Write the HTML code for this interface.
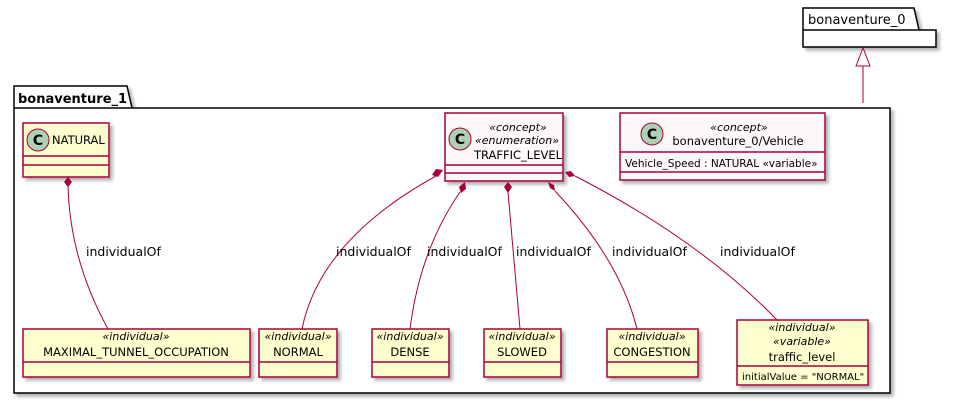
<!DOCTYPE html>
<html><head><meta charset="utf-8"><style>
body{margin:0;background:#fff}
svg text{font-family:"DejaVu Sans","Liberation Sans",sans-serif;font-size:11.5px;fill:#000}
.c{fill:#FEFECE;stroke:#A80036;stroke-width:1.5}
.w{fill:#FCF9F8;stroke:#A80036;stroke-width:1.5}
.e{fill:none;stroke:#A80036;stroke-width:1}
.i{font-style:italic;font-size:11px}
.l{font-size:12.5px}
</style></head><body>
<svg width="957" height="405" viewBox="0 0 957 405" xmlns="http://www.w3.org/2000/svg">
<defs><filter id="s" x="-10%" y="-10%" width="130%" height="130%"><feDropShadow dx="3" dy="3" stdDeviation="1.5" flood-color="#000" flood-opacity="0.3"/></filter></defs>
<g filter="url(#s)">
<path d="M803,8 H914 L919,30 H936 V47 H803 Z" fill="#fff" stroke="#000" stroke-width="1.5"/>
</g>
<line x1="803" y1="30" x2="919" y2="30" stroke="#000" stroke-width="1.5"/>
<text x="808" y="24" style="font-size:13px">bonaventure_0</text>
<polygon points="863,48 856,66 870,66" fill="#fff" stroke="#A80036"/>
<line x1="863" y1="66" x2="863" y2="103" class="e"/>
<g filter="url(#s)">
<path d="M14,86 H127 L132,108 H890 V393 H14 Z" fill="#fff" stroke="#000" stroke-width="1.5"/>
</g>
<line x1="14" y1="108" x2="132" y2="108" stroke="#000" stroke-width="1.5"/>
<text x="18" y="103" style="font-size:13px;font-weight:bold">bonaventure_1</text>
<rect x="23" y="123" width="86" height="54" class="c" filter="url(#s)"/>
<line x1="23" y1="156" x2="109" y2="156" stroke="#A80036" stroke-width="1.5"/>
<line x1="23" y1="165" x2="109" y2="165" stroke="#A80036" stroke-width="1.5"/>
<circle cx="38" cy="140" r="11" fill="#ADD1B2" stroke="#A80036"/>
<text x="38" y="145" text-anchor="middle" style="font-weight:bold;font-size:14px">C</text>
<text x="52" y="144">NATURAL</text>
<rect x="445" y="113" width="118" height="68" class="w" filter="url(#s)"/>
<line x1="445" y1="165" x2="563" y2="165" stroke="#A80036" stroke-width="1.5"/>
<line x1="445" y1="173" x2="563" y2="173" stroke="#A80036" stroke-width="1.5"/>
<circle cx="460" cy="139" r="11" fill="#ADD1B2" stroke="#A80036"/>
<text x="460" y="144" text-anchor="middle" style="font-weight:bold;font-size:14px">C</text>
<text x="518" y="131" text-anchor="middle" class="i">«concept»</text>
<text x="517" y="144" text-anchor="middle" class="i">«enumeration»</text>
<text x="518" y="159" text-anchor="middle">TRAFFIC_LEVEL</text>
<rect x="620" y="113" width="205" height="67" class="w" filter="url(#s)"/>
<line x1="620" y1="152" x2="825" y2="152" stroke="#A80036" stroke-width="1.5"/>
<line x1="620" y1="172" x2="825" y2="172" stroke="#A80036" stroke-width="1.5"/>
<circle cx="652" cy="134" r="11" fill="#ADD1B2" stroke="#A80036"/>
<text x="652" y="139" text-anchor="middle" style="font-weight:bold;font-size:14px">C</text>
<text x="739" y="131" text-anchor="middle" class="i">«concept»</text>
<text x="738" y="145" text-anchor="middle">bonaventure_0/Vehicle</text>
<text x="625" y="167" style="font-size:10.5px">Vehicle_Speed : NATURAL «variable»</text>
<g>
<rect x="23" y="329" width="227" height="48" class="c" filter="url(#s)"/>
<line x1="23" y1="362" x2="250" y2="362" stroke="#A80036" stroke-width="1.5"/>
<text x="136" y="340" text-anchor="middle" class="i">«individual»</text>
<text x="136" y="356" text-anchor="middle">MAXIMAL_TUNNEL_OCCUPATION</text>
<rect x="259" y="329" width="78" height="48" class="c" filter="url(#s)"/>
<line x1="259" y1="362" x2="337" y2="362" stroke="#A80036" stroke-width="1.5"/>
<text x="298" y="340" text-anchor="middle" class="i">«individual»</text>
<text x="298" y="356" text-anchor="middle">NORMAL</text>
<rect x="372" y="329" width="77" height="48" class="c" filter="url(#s)"/>
<line x1="372" y1="362" x2="449" y2="362" stroke="#A80036" stroke-width="1.5"/>
<text x="410" y="340" text-anchor="middle" class="i">«individual»</text>
<text x="410" y="356" text-anchor="middle">DENSE</text>
<rect x="484" y="329" width="77" height="48" class="c" filter="url(#s)"/>
<line x1="484" y1="362" x2="561" y2="362" stroke="#A80036" stroke-width="1.5"/>
<text x="522" y="340" text-anchor="middle" class="i">«individual»</text>
<text x="522" y="356" text-anchor="middle">SLOWED</text>
<rect x="607" y="329" width="91" height="48" class="c" filter="url(#s)"/>
<line x1="607" y1="362" x2="698" y2="362" stroke="#A80036" stroke-width="1.5"/>
<text x="652" y="340" text-anchor="middle" class="i">«individual»</text>
<text x="652" y="356" text-anchor="middle">CONGESTION</text>
<rect x="737" y="320" width="131" height="65" class="c" filter="url(#s)"/>
<line x1="737" y1="366" x2="868" y2="366" stroke="#A80036" stroke-width="1.5"/>
<text x="802" y="331" text-anchor="middle" class="i">«individual»</text>
<text x="802" y="345" text-anchor="middle" class="i">«variable»</text>
<text x="802" y="361" text-anchor="middle">traffic_level</text>
<text x="742" y="380" style="font-size:10px">initialValue = "NORMAL"</text>
</g>
<path class="e" d="M68,186 Q70,260 108,329"/>
<polygon points="68,177 72,182 68,187 64,182" fill="#A80036"/>
<path class="e" d="M436,176 Q320,240 302,329"/>
<polygon points="443,170 438,177 432,175 436,169" fill="#A80036"/>
<path class="e" d="M460,192 Q420,250 410,329"/>
<polygon points="465,182 466,189 461,193 459,187" fill="#A80036"/>
<path class="e" d="M508,192 L520,329"/>
<polygon points="508,182 512,187 508,193 504,187" fill="#A80036"/>
<path class="e" d="M555,191 Q620,260 637,329"/>
<polygon points="548,182 554,185 555,191 550,188" fill="#A80036"/>
<path class="e" d="M575,176 Q700,240 777,320"/>
<polygon points="565,172 571,171 575,176 569,177" fill="#A80036"/>
<text x="86" y="256" class="l">individualOf</text>
<text x="336" y="256" class="l">individualOf</text>
<text x="427" y="256" class="l">individualOf</text>
<text x="516" y="256" class="l">individualOf</text>
<text x="612" y="256" class="l">individualOf</text>
<text x="720" y="256" class="l">individualOf</text>
</svg>
</body></html>
